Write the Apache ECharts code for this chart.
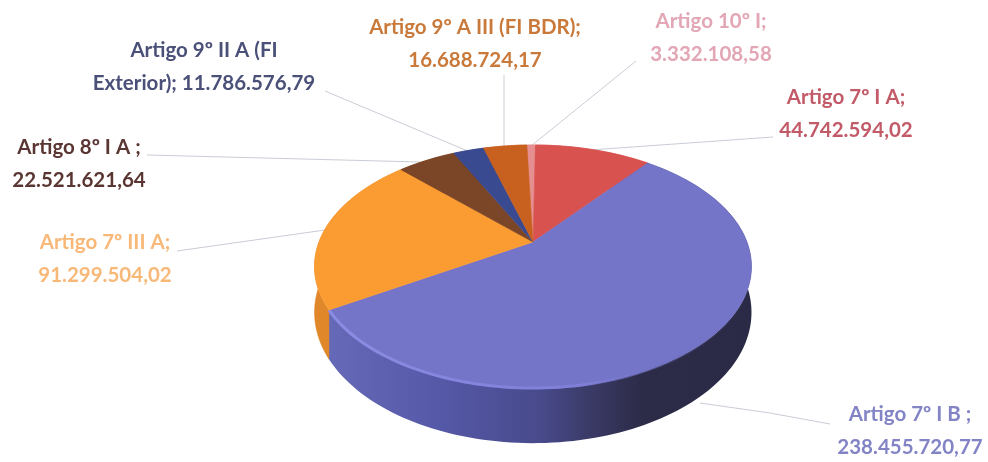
<!DOCTYPE html>
<html><head><meta charset="utf-8">
<style>html,body{margin:0;padding:0;background:#fff}#c{width:988px;height:462px;filter:blur(0.7px)}</style>
<script src="https://cdn.jsdelivr.net/npm/echarts@6/dist/echarts.min.js"></script>
</head><body><div id="c"></div>
<script>
// Data, clockwise from the top of the pie
const names = ['Artigo 10º I;','Artigo 7º I A;','Artigo 7º I B ;','Artigo 7º III A;','Artigo 8º I A ;','Artigo 9º II A (FI\nExterior);','Artigo 9º A III (FI BDR);'];
const values = [3332108.58,44742594.02,238455720.77,91299504.02,22521621.64,11786576.79,16688724.17];
const topColors = ['#e58f90','#d8524f','#7474c8','#fb9c32','#7b4527','#3a4a90','#c8601f'];
const labelColors = ['#e2a6b4','#c25a68','#8284c6','#f8b878','#5a3632','#4a5078','#c9793a'];
const breakBeforeValue = [true,true,true,true,true,false,true];

// Layout
const cx=533, cy=242, R=214, Ry=116.6, K=0.2016, DEPTH=44, START=-2;
const labelPos = [[711,21],[846,97],[910,414],[105,242],[79,147],[204,50],[475,27]];
const leaders = [[[636,61],[531,146]],[[773,137],[590,150]],[[830,424],[770,413],[700,403]],[[177,251],[325,230]],[[147,155],[420,162]],[[325,91],[470,152]],[[504,75],[504,146]]];

const total = values.reduce((a,b)=>a+b,0);
const fmt = v => { const s=v.toFixed(2).split('.'); return s[0].replace(/\B(?=(\d{3})+$)/g,'.')+','+s[1]; };
const rim = deg => { const t=deg*Math.PI/180, X=Math.sin(t), Y=Math.cos(t), w=1/(1+K*Y);
  return [cx+R*X*w, cy-Ry*Y*w, w]; };
const span = i => { const before=values.slice(0,i).reduce((a,b)=>a+b,0);
  return [START+before/total*360, START+(before+values[i])/total*360]; };
const arc = i => { const [a,b]=span(i), n=Math.max(4,Math.ceil((b-a)/1.5)), out=[];
  for(let k=0;k<=n;k++) out.push(rim(a+(b-a)*k/n)); return out; };

const sideStyle = i => {
  if(i===2) return new echarts.graphic.LinearGradient(0,0,1,0,[
    {offset:0,color:'#6669b8'},{offset:0.25,color:'#5659a8'},{offset:0.5,color:'#484a8c'},
    {offset:0.62,color:'#3a3a66'},{offset:0.74,color:'#2c2b48'},{offset:1,color:'#2a2a46'}]);
  if(i===3) return '#e0872a';
  return topColors[i];
};
const walls = (p,api) => { const i=api.value(0), pts=arc(i);
  const low=pts.map(q=>[q[0],q[1]+DEPTH*q[2]]).reverse();
  const poly=pts.map(q=>[q[0],q[1]]).concat(low);
  const s=sideStyle(i);
  return {type:'polygon',shape:{points:poly},style:{fill:s,stroke:typeof s==='string'?s:null,lineWidth:0.5}};
};
const tops = (p,api) => { const i=api.value(0), pts=arc(i).map(q=>[q[0],q[1]]);
  const kids=[{type:'polygon',shape:{points:[[cx,cy]].concat(pts)},style:{fill:topColors[i],stroke:topColors[i],lineWidth:0.6}}];
  if(i===2){ const front=pts.filter(q=>q[1]>cy+20);
    kids.push({type:'polyline',shape:{points:front},style:{fill:null,lineWidth:3,
      stroke:new echarts.graphic.LinearGradient(0,0,1,0,[{offset:0,color:'#8c8ce4'},{offset:0.6,color:'#7f7fd8'},{offset:0.8,color:'rgba(110,110,190,0.4)'},{offset:1,color:'rgba(110,110,190,0)'}])}});
  }
  return {type:'group',children:kids};
};
const lines = (p,api) => ({type:'polyline',shape:{points:leaders[api.value(0)]},style:{fill:null,stroke:'#c9cdd6',lineWidth:1}});
const labels = (p,api) => { const i=api.value(0), [x,y]=labelPos[i];
  const txt=names[i]+(breakBeforeValue[i]?'\n':' ')+fmt(values[i]);
  return {type:'text',style:{x:x,y:y-16,text:txt,align:'center',verticalAlign:'top',fill:labelColors[i],
    font:'700 20.5px Lato, "Open Sans", sans-serif',lineHeight:33}};
};
const rows = values.map((v,i)=>[i,v]);
const mk = (fn,z) => ({type:'custom',coordinateSystem:'none',renderItem:fn,data:rows,z:z,silent:true,animation:false,clip:false});
echarts.init(document.getElementById('c')).setOption({
  animation:false, backgroundColor:'#ffffff',
  series:[mk(lines,1),mk(walls,2),mk(tops,3),mk(labels,4)]
});
</script></body></html>
